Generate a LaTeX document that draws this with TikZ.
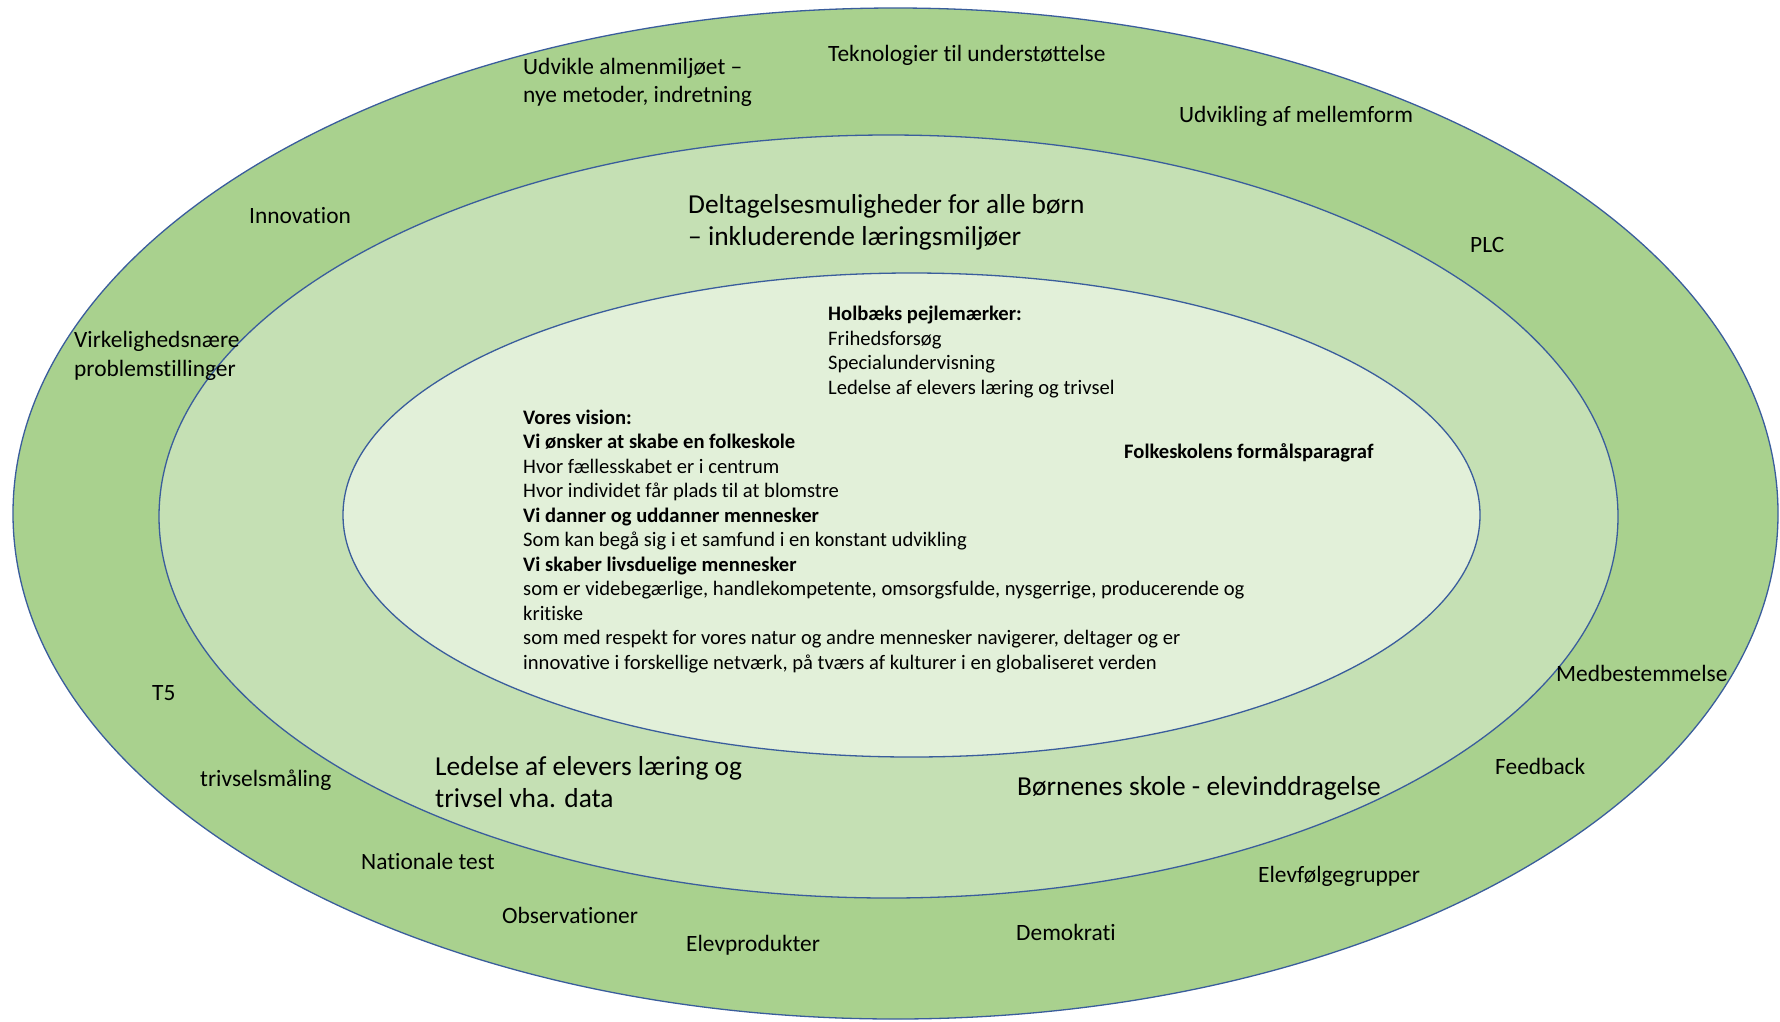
\documentclass[tikz,border=0pt]{standalone}
\usepackage{fontspec}
\setmainfont{Carlito}[Ligatures={NoCommon}]
\definecolor{ringA}{HTML}{A9D18E}
\definecolor{ringB}{HTML}{C5E0B4}
\definecolor{ringC}{HTML}{E2F0D9}
\definecolor{rimline}{HTML}{3A5D9C}
\begin{document}
\begin{tikzpicture}[x=1pt,y=-1pt,
  ring/.style={draw=rimline,line width=1.3pt},
  outerlbl/.style={anchor=north west,inner sep=0pt,align=left,font=\fontsize{23.4}{28.4}\selectfont},
  midlbl/.style={anchor=north west,inner sep=0pt,align=left,font=\fontsize{27.4}{31.5}\selectfont},
  innerlbl/.style={anchor=north west,inner sep=0pt,align=left,font=\fontsize{20.6}{24.5}\selectfont}]
\useasboundingbox (0,0) rectangle (1780,1021);
\fill[white] (0,0) rectangle (1780,1021);
\path[ring,fill=ringA] (895.5,513.5) ellipse [x radius=882.5pt, y radius=505.5pt];
\path[ring,fill=ringB] (888.5,516.5) ellipse [x radius=729.5pt, y radius=381.5pt];
\path[ring,fill=ringC] (911.5,515) ellipse [x radius=568.5pt, y radius=242pt];
% outer ring
\node[outerlbl] (udv) at (523,57.6) {Udvikle almenmiljøet –\\nye metoder, indretning};
\node[outerlbl] (tek) at (828,45.2) {Teknologier til understøttelse};
\node[outerlbl] (mel) at (1179,106.5) {Udvikling af mellemform};
\node[outerlbl] (inn) at (249,207.5) {Innovation};
\node[outerlbl] (plc) at (1470,236.8) {PLC};
\node[outerlbl] (vir) at (74,331.2) {Virkelighedsnære\\problemstillinger};
\node[outerlbl] (t5) at (152,685.4) {T5};
\node[outerlbl] (tri) at (200,769.4) {trivselsmåling};
\node[outerlbl] (nat) at (361,853.4) {Nationale test};
\node[outerlbl] (obs) at (502,906.8) {Observationer};
\node[outerlbl] (elp) at (686,935.1) {Elevprodukter};
\node[outerlbl] (dem) at (1016,923.8) {Demokrati};
\node[outerlbl] (elf) at (1258,865.8) {Elevfølgegrupper};
\node[outerlbl] (fee) at (1495,757.8) {Feedback};
\node[outerlbl] (med) at (1556,664.8) {Medbestemmelse};
% middle ring
\node[midlbl] (del) at (688,194.6) {Deltagelsesmuligheder for alle børn\\– inkluderende læringsmiljøer};
\node[midlbl] (led) at (435,756.3) {Ledelse af elevers læring og\\trivsel vha. data};
\node[midlbl] (bor) at (1017,775.9) {Børnenes skole - elevinddragelse};
% inner
\node[innerlbl] (hol) at (828,306.2) {\textbf{Holbæks pejlemærker:}\\Frihedsforsøg\\Specialundervisning\\Ledelse af elevers læring og trivsel};
\node[innerlbl] (fol) at (1124,443.6) {\textbf{Folkeskolens formålsparagraf}};
\node[innerlbl] (vis) at (523,409.5) {\textbf{Vores vision:}\\
\textbf{Vi ønsker at skabe en folkeskole}\\
Hvor fællesskabet er i centrum\\
Hvor individet får plads til at blomstre\\
\textbf{Vi danner og uddanner mennesker}\\
Som kan begå sig i et samfund i en konstant udvikling\\
\textbf{Vi skaber livsduelige mennesker}\\
som er videbegærlige, handlekompetente, omsorgsfulde, nysgerrige, producerende og\\
kritiske\\
som med respekt for vores natur og andre mennesker navigerer, deltager og er\\
innovative i forskellige netværk, på tværs af kulturer i en globaliseret verden};
\end{tikzpicture}
\end{document}
